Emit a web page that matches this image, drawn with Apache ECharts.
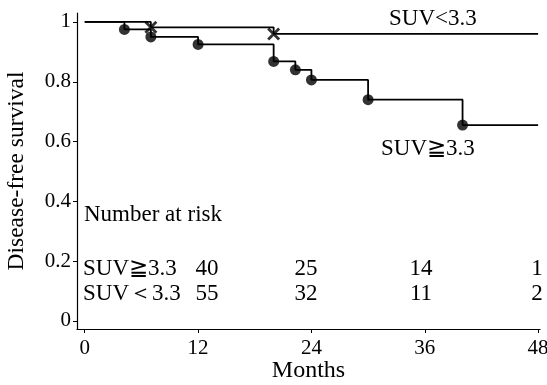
<!DOCTYPE html>
<html><head><meta charset="utf-8">
<script src="https://cdn.jsdelivr.net/npm/echarts@6/dist/echarts.min.js"></script>
<style>html,body{margin:0;padding:0;background:#fff}#c{width:547px;height:385px}</style>
</head><body><div id="c"></div>
<script>
// Kaplan-Meier step curves (month, survival)
const lowMonths = [0, 7, 20, 48];
const lowSurv   = [1, 0.982, 0.96, 0.96];
const highMonths = [0, 4.2, 7, 12, 20, 22.3, 24, 30, 40, 48];
const highSurv   = [1, 0.975, 0.95, 0.925, 0.868, 0.84, 0.806, 0.74, 0.655, 0.655];
// event markers
const lowEventIdx = [1, 2];
const highEventIdx = [1, 2, 3, 4, 5, 6, 7, 8];
const xTicks = [0, 12, 24, 36, 48];
const yTicks = [0, 0.2, 0.4, 0.6, 0.8, 1];
const riskLabels = ['SUV\u22673.3', 'SUV\uFF1C3.3'];
const riskHigh = [40, 25, 14, 1];
const riskLow  = [55, 32, 11, 2];

const FONT = 'Liberation Serif';
const chart = echarts.init(document.getElementById('c'), null, {renderer: 'canvas'});
const pts = (xs, ys) => xs.map((x, i) => [x, ys[i]]);
const yFmt = v => (Math.abs(v - 1) < 1e-9 ? '1' : Math.abs(v) < 1e-9 ? '0' : String(Math.round(v * 10) / 10));
const F = '23px ' + FONT;

chart.setOption({
  animation: false,
  backgroundColor: '#fff',
  grid: {left: 77, right: 7, top: 13, bottom: 56, containLabel: false, outerBoundsMode: 'none'},
  xAxis: {
    type: 'value', min: -0.82, max: 48.2,
    name: 'Months', nameLocation: 'middle', nameGap: 30, nameMoveOverlap: false,
    nameTextStyle: {fontFamily: FONT, fontSize: 24, color: '#000'},
    axisLine: {show: true, onZero: false, lineStyle: {color: '#000', width: 1.2}},
    axisTick: {show: true, length: 4, customValues: xTicks, lineStyle: {color: '#000'}},
    axisLabel: {customValues: xTicks, fontFamily: FONT, fontSize: 21, color: '#000', margin: 9, formatter: v => String(v)},
    splitLine: {show: false}
  },
  yAxis: {
    type: 'value', min: -0.027, max: 1.03,
    name: 'Disease-free survival', nameLocation: 'middle', nameGap: 48, nameRotate: 90, nameMoveOverlap: false,
    nameTextStyle: {fontFamily: FONT, fontSize: 23.5, color: '#000'},
    axisLine: {show: true, onZero: false, lineStyle: {color: '#000', width: 1.2}},
    axisTick: {show: true, length: 4, customValues: yTicks, lineStyle: {color: '#000'}},
    axisLabel: {customValues: yTicks, fontFamily: FONT, fontSize: 21, color: '#000', margin: 6, formatter: yFmt},
    splitLine: {show: false}
  },
  series: [
    {type: 'line', step: 'end', data: pts(lowMonths, lowSurv), showSymbol: false,
     lineStyle: {color: '#000', width: 1.8}, z: 2},
    {type: 'line', step: 'end', data: pts(highMonths, highSurv), showSymbol: false,
     lineStyle: {color: '#000', width: 1.8}, z: 2},
    {type: 'scatter', data: highEventIdx.map(i => [highMonths[i], highSurv[i]]),
     symbol: 'circle', symbolSize: 11, itemStyle: {color: '#000'}, z: 3},
    {type: 'scatter', data: lowEventIdx.map(i => [lowMonths[i], lowSurv[i]]),
     symbol: 'path://M0,0L10,10M10,0L0,10', symbolSize: 11,
     itemStyle: {color: 'none', borderColor: '#000', borderWidth: 2.8}, z: 4}
  ],
  graphic: [
    {type: 'text', left: 389, top: 7, style: {text: 'SUV<3.3', font: F, fill: '#000'}},
    {type: 'text', left: 381, top: 137, style: {text: 'SUV\u22673.3', font: F, fill: '#000'}},
    {type: 'text', left: 84, top: 203, style: {text: 'Number at risk', font: F, fill: '#000'}},
    {type: 'text', left: 83, top: 257, style: {text: riskLabels[0], font: F, fill: '#000'}},
    {type: 'text', left: 83, top: 282, style: {text: riskLabels[1], font: F, fill: '#000'}},
    ...[207, 306, 421, 537].map((x, i) => ({type: 'text', x: x, y: 257,
      style: {text: String(riskHigh[i]), font: F, fill: '#000', align: 'center'}})),
    ...[207, 306, 421, 537].map((x, i) => ({type: 'text', x: x, y: 282,
      style: {text: String(riskLow[i]), font: F, fill: '#000', align: 'center'}}))
  ]
});
</script></body></html>
